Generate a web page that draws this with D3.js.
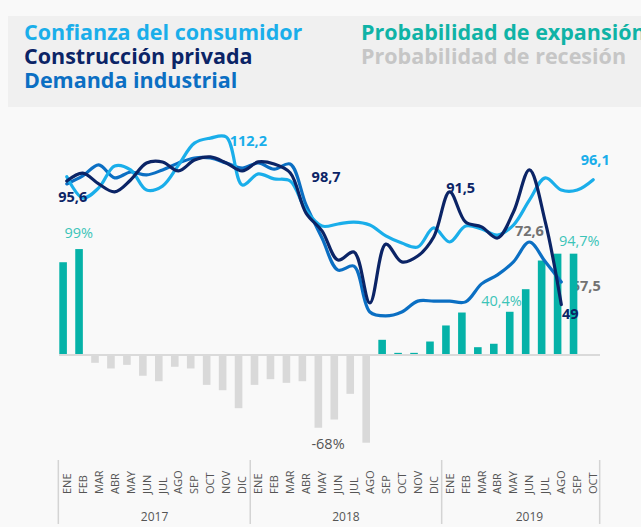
<!DOCTYPE html>
<html lang="es">

<head>
    <meta charset="UTF-8">
    <title>Indicadores</title>
    <style>
        body { margin: 0; background: #f9f9f9; }
        svg { display: block; font-family: "Open Sans", sans-serif; }
    </style>
</head>

<body>
    <script src="https://cdn.jsdelivr.net/npm/d3@7"></script>
    <script>
        // months ENE 2017 .. OCT 2019
        const monthNames = ["ENE", "FEB", "MAR", "ABR", "MAY", "JUN", "JUL", "AGO", "SEP", "OCT", "NOV", "DIC"];
        const years = ["2017", "2018", "2019"];
        const monthsPerYear = [12, 12, 10];

        const confianza = [97.2, 89.2, 93.0, 101.3, 99.8, 92.2, 93.7, 101.6, 109.9, 111.8, 112.2, 94.1,
            98.3, 96.4, 95.6, 84.5, 78.6, 79.4, 80.1, 79.0, 74.9, 72.2, 70.7, 77.9,
            72.6, 78.6, 77.5, 75.2, 79.0, 88.4, 96.8, 92.2, 92.2, 96.1];
        const construccion = [95.6, 98.6, 94.5, 91.5, 96.0, 102.4, 102.8, 99.4, 103.5, 104.7, 102.4, 99.4,
            102.8, 102.0, 98.7, 83.5, 76.8, 65.8, 68.8, 49.6, 71.8, 65.1, 67.3, 74.5,
            91.5, 80.1, 78.3, 74.1, 83.9, 99.8, 80.1, 49];
        const demanda = [94.5, 97.5, 101.7, 96.8, 99.0, 97.9, 99.8, 102.4, 104.3, 104.3, 102.4, 100.5,
            102.4, 100.1, 102.0, 86.6, 74.1, 62.0, 63.5, 46.2, 44.7, 46.2, 50.3, 50.3,
            50.3, 50.0, 56.8, 60.2, 65.1, 72.6, 65.1, 57.5];

        const probExpansion = [86.7, 99, null, null, null, null, null, null, null, null, null, null,
            null, null, null, null, null, null, null, null, 14.2, 2, 2, 12.6,
            27.6, 39.7, 7.3, 10.5, 40.4, 61.5, 88.3, 94.7, 94.7, null];
        const probRecesion = [null, null, -7.3, -12.6, -9.2, -19.4, -24.5, -11, -12.6, -27.9, -32.9, -49.7,
            -27.9, -22.6, -26, -24.5, -68, -60.3, -36.3, -82, null, null, null, null,
            null, null, null, null, null, null, null, null, null, null];

        const months = [];
        years.forEach((y, k) => {
            for (let m = 0; m < monthsPerYear[k]; m++) months.push(y + "-" + monthNames[m]);
        });

        const width = 641;
        const height = 527;
        const cLight = "#1aaeea";
        const cNavy = "#0b2466";
        const cMid = "#0b6fc3";
        const cTeal = "#05b2a8";
        const cGray = "#d9d9d9";

        const svg = d3.select("body").append("svg")
            .attr("width", width)
            .attr("height", height);

        svg.append("rect").attr("width", width).attr("height", height).attr("fill", "#f9f9f9");

        // legend box
        svg.append("rect")
            .attr("x", 8).attr("y", 16)
            .attr("width", width - 8).attr("height", 91)
            .attr("fill", "#f0f0f0");

        const legend = [
            { text: "Confianza del consumidor", color: cLight, col: 0, row: 0 },
            { text: "Construcción privada", color: cNavy, col: 0, row: 1 },
            { text: "Demanda industrial", color: cMid, col: 0, row: 2 },
            { text: "Probabilidad de expansión", color: "#0fb3a6", col: 1, row: 0 },
            { text: "Probabilidad de recesión", color: "#c6c6c6", col: 1, row: 1 }
        ];
        svg.append("g").selectAll("text")
            .data(legend)
            .enter().append("text")
            .attr("x", d => d.col ? 361 : 24)
            .attr("y", d => 40 + d.row * 24)
            .attr("fill", d => d.color)
            .attr("font-size", 21.5)
            .attr("font-weight", "bold")
            .text(d => d.text);

        // scales
        const x = d3.scalePoint()
            .domain(months)
            .range([66.8, 593.2]);
        const barOffset = -3.7;
        const barW = 7.6;

        const yBar = d3.scaleLinear()
            .domain([-100, 100])
            .range([355 + 107, 355 - 107]);

        const yLine = d3.scaleLinear()
            .domain([40, 115])
            .range([328.4, 129.6]);

        // zero line
        svg.append("line")
            .attr("x1", 59).attr("x2", 600)
            .attr("y1", yBar(0)).attr("y2", yBar(0))
            .attr("stroke", "#dadada")
            .attr("stroke-width", 2);

        // this one sits behind the bars in the original
        svg.append("text")
            .attr("x", x(months[31]) + 25)
            .attr("y", 291)
            .attr("text-anchor", "middle")
            .attr("fill", "#727272")
            .attr("font-size", 14.5)
            .attr("font-weight", "bold")
            .text("57,5");

        const bars = svg.append("g");
        bars.selectAll(".exp")
            .data(probExpansion.map((v, i) => ({ v, m: months[i] })).filter(d => d.v !== null))
            .enter().append("rect")
            .attr("class", "exp")
            .attr("x", d => x(d.m) + barOffset - barW / 2)
            .attr("width", barW)
            .attr("y", d => yBar(d.v))
            .attr("height", d => yBar(0) - yBar(d.v) - 1)
            .attr("fill", cTeal);

        bars.selectAll(".rec")
            .data(probRecesion.map((v, i) => ({ v, m: months[i] })).filter(d => d.v !== null))
            .enter().append("rect")
            .attr("class", "rec")
            .attr("x", d => x(d.m) + barOffset - barW / 2)
            .attr("width", barW)
            .attr("y", yBar(0) + 1)
            .attr("height", d => yBar(d.v) - yBar(0) - 1)
            .attr("fill", cGray);

        // lines
        const line = d3.line()
            .x((d, i) => x(months[i]))
            .y(d => yLine(d))
            .curve(d3.curveCatmullRom.alpha(0.5));

        [[demanda, cMid], [confianza, cLight], [construccion, cNavy]].forEach(([data, color]) => {
            svg.append("path")
                .datum(data)
                .attr("d", line)
                .attr("fill", "none")
                .attr("stroke", color)
                .attr("stroke-width", 3.2)
                .attr("stroke-linejoin", "round")
                .attr("stroke-linecap", "round");
        });

        // value labels
        const notes = [
            { text: "95,6", x: x(months[0]) + 6, y: 202, color: cNavy, bold: true },
            { text: "112,2", x: x(months[10]) + 22, y: 146, color: cLight, bold: true },
            { text: "98,7", x: x(months[14]) + 36, y: 182, color: cNavy, bold: true },
            { text: "91,5", x: x(months[24]) + 11, y: 193, color: cNavy, bold: true },
            { text: "96,1", x: x(months[33]) + 2, y: 165, color: cLight, bold: true },
            { text: "72,6", x: x(months[29]) + 0, y: 236, color: "#727272", bold: true },
            { text: "49", x: x(months[31]) + 9, y: 319, color: cNavy, bold: true },
            { text: "99%", x: x(months[1]) - 4, y: 238, color: "#3cc4b8", bold: false },
            { text: "94,7%", x: x(months[32]) + 2, y: 246, color: "#3cc4b8", bold: false },
            { text: "40,4%", x: x(months[28]) - 12, y: 306, color: "#3cc4b8", bold: false },
            { text: "-68%", x: x(months[16]) + 6, y: 449, color: "#555555", bold: false }
        ];
        svg.append("g").selectAll("text")
            .data(notes)
            .enter().append("text")
            .attr("x", d => d.x)
            .attr("y", d => d.y)
            .attr("text-anchor", "middle")
            .attr("fill", d => d.color)
            .attr("font-size", 14.5)
            .attr("font-weight", d => d.bold ? "bold" : "normal")
            .text(d => d.text);

        // x axis: months rotated, year groups
        const axis = svg.append("g");
        axis.selectAll(".m")
            .data(months)
            .enter().append("text")
            .attr("class", "m")
            .attr("transform", d => `translate(${x(d) + 4},494) rotate(-90)`)
            .attr("font-size", 11)
            .attr("fill", "#555555")
            .text(d => d.split("-")[1]);

        const step = x.step();
        let start = 0;
        const seps = [x(months[0]) - step / 2 - 0.5];
        years.forEach((y, k) => {
            const first = x(months[start]);
            const last = x(months[start + monthsPerYear[k] - 1]);
            seps.push(last + step / 2 + (k === 2 ? -1.5 : 0));
            axis.append("text")
                .attr("x", (first + last) / 2 + (k === 2 ? 8 : 0))
                .attr("y", 521)
                .attr("text-anchor", "middle")
                .attr("font-size", 12)
                .attr("fill", "#555555")
                .text(y);
            start += monthsPerYear[k];
        });
        axis.selectAll("line")
            .data(seps)
            .enter().append("line")
            .attr("x1", d => d).attr("x2", d => d)
            .attr("y1", 460).attr("y2", 524)
            .attr("stroke", "#d4d4d4")
            .attr("stroke-width", 1.5);
    </script>
</body>

</html>
